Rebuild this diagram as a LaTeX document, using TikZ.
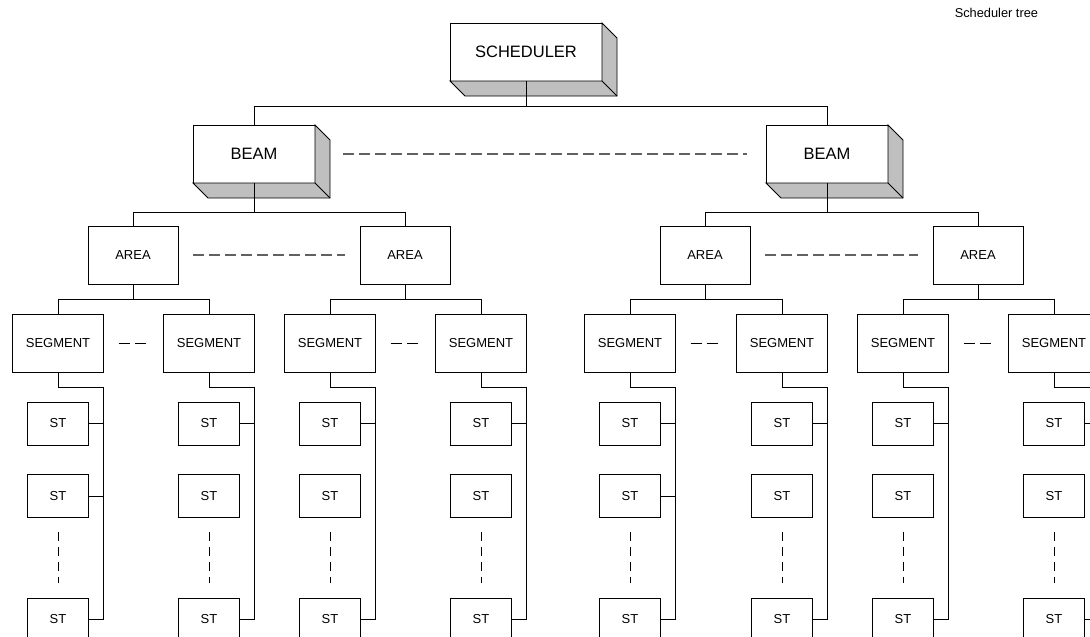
\documentclass[tikz,border=0pt]{standalone}
\usepackage{fontspec}
\setmainfont{Liberation Sans}
\usetikzlibrary{positioning}
\tikzset{
box/.style={draw, fill=white, outer sep=0pt, inner sep=0pt, line width=0.9pt}, % plain rectangle
slab/.style={box, minimum width=122pt, minimum height=58pt, font=\fontsize{16.5}{19}\selectfont}, % front of a 3d block
area/.style={box, minimum width=90pt, minimum height=58pt, font=\fontsize{13}{15}\selectfont},
seg/.style={box, minimum width=91pt, minimum height=58pt, font=\fontsize{13}{15}\selectfont},
st/.style={box, minimum width=61pt, minimum height=43pt, font=\fontsize{13}{15}\selectfont},
face/.style={fill=gray!50, draw, line width=0.9pt}, % shaded sides
gap/.style={draw=black!62, line width=1.6pt, dash pattern=on 11pt off 5pt}, % dashed links
}
% shaded sides of a 3d block
\newcommand{\boxside}[1]{%
\filldraw[face] (#1.north east) -- ++(15,15) -- ([shift={(15,15)}]#1.south east)
  -- ([shift={(15,15)}]#1.south west) -- (#1.south west) -- (#1.south east) -- cycle;
\draw[line width=0.9pt] (#1.south east) -- ++(15,15);}

\begin{document}
\begin{tikzpicture}[x=1pt, y=-1pt, line width=0.9pt]
\useasboundingbox (0,0) rectangle (1090,637);
\clip (0,0) rectangle (1090,637);
\node[font=\fontsize{12.8}{15}\selectfont, anchor=west] at (951,13) (title) {Scheduler tree};
\node[slab, minimum width=152pt] at (526,52) (sched) {SCHEDULER};
\node[slab] at (254,154) (beamL) {BEAM};
\node[slab] at (827,154) (beamR) {BEAM};
\boxside{sched}
\boxside{beamL}
\boxside{beamR}
\foreach \i/\x in {1/133,2/405,3/705,4/978}
  \node[area] at (\x,255) (area\i) {AREA};
\foreach \i/\x in {1/58,2/209,3/330,4/481,5/630,6/782,7/903,8/1054} {
  \node[seg] at (\x,343) (seg\i) {SEGMENT};
  \node[st] at (\x,423.5) (st\i-a) {ST};
  \node[st] at (\x,496) (st\i-b) {ST};
  \node[st] at (\x,619.5) (st\i-c) {ST};
  \draw (seg\i.south) -- ++(0,15) -| (st\i-c.east -| seg\i.east);
  \draw (st\i-a.east) -- (st\i-a.east -| seg\i.east);
  \draw (st\i-c.east) -- (st\i-c.east -| seg\i.east);
  \draw[gap, line width=0.9pt, dash pattern=on 9pt off 6pt, draw=black, shorten <=14pt, shorten >=15pt] (st\i-b.south) -- (st\i-c.north);
}
\draw (st1-b.east) -- (st1-b.east -| seg1.east);
\draw (st5-b.east) -- (st5-b.east -| seg5.east);
% tree
\draw
(sched.south) -- ++(0,25) -| (beamL.north)
(sched.south) -- ++(0,25) -| (beamR.north)
(beamL.south) -- ++(0,29) -| (area1.north)
(beamL.south) -- ++(0,29) -| (area2.north)
(beamR.south) -- ++(0,29) -| (area3.north)
(beamR.south) -- ++(0,29) -| (area4.north)
(area1.south) -- ++(0,15) -| (seg1.north)
(area1.south) -- ++(0,15) -| (seg2.north)
(area2.south) -- ++(0,15) -| (seg3.north)
(area2.south) -- ++(0,15) -| (seg4.north)
(area3.south) -- ++(0,15) -| (seg5.north)
(area3.south) -- ++(0,15) -| (seg6.north)
(area4.south) -- ++(0,15) -| (seg7.north)
(area4.south) -- ++(0,15) -| (seg8.north)
;
\draw[gap, shorten <=28pt, shorten >=19pt] (beamL.east) -- (beamR.west);
\draw[gap, shorten <=15pt, shorten >=15pt] (area1.east) -- (area2.west);
\draw[gap, shorten <=15pt, shorten >=15pt] (area3.east) -- (area4.west);
\foreach \a/\b in {1/2,3/4,5/6,7/8}
  \draw[gap, draw=black, line width=0.9pt, shorten <=15pt, shorten >=18pt] (seg\a.east) -- (seg\b.west);
\end{tikzpicture}
\end{document}
